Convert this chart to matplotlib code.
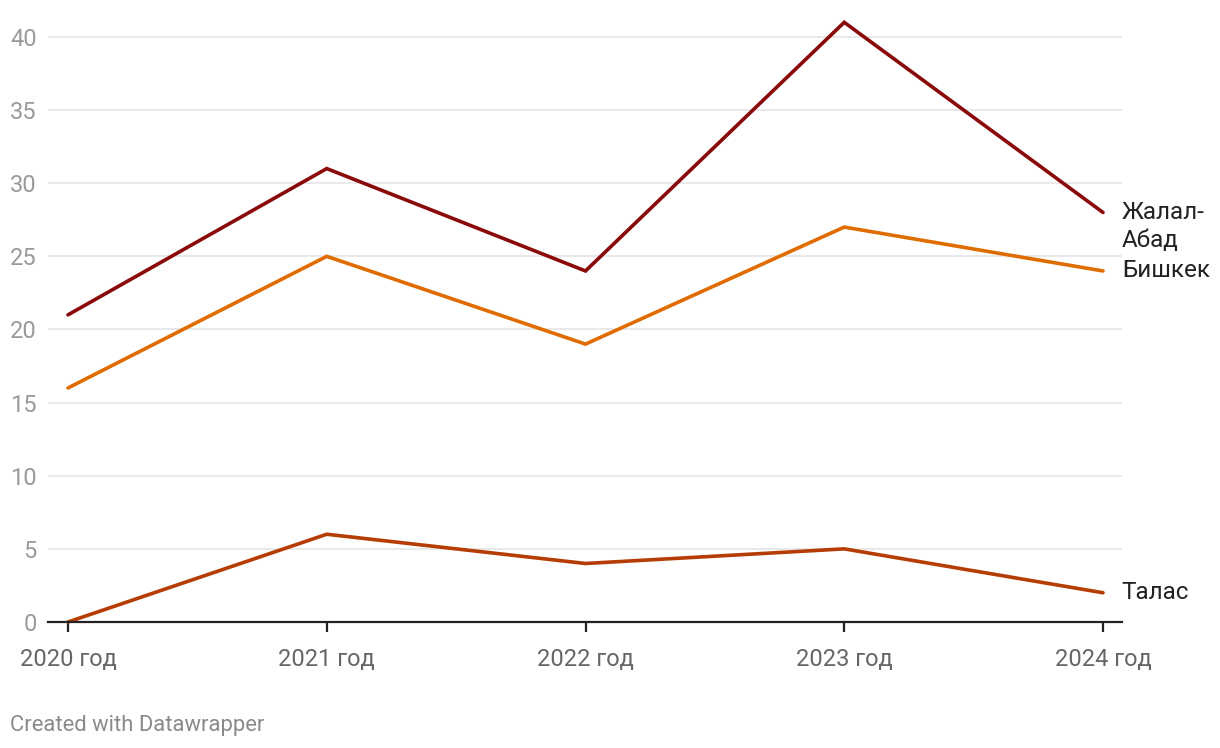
import matplotlib
matplotlib.use("Agg")
import matplotlib.pyplot as plt

years = [2020, 2021, 2022, 2023, 2024]
year_labels = ["2020 год", "2021 год", "2022 год", "2023 год", "2024 год"]
jalal_abad = [21, 31, 24, 41, 28]
bishkek = [16, 25, 19, 27, 24]
talas = [0, 6, 4, 5, 2]
y_ticks = [0, 5, 10, 15, 20, 25, 30, 35, 40]

plt.rcParams['font.family'] = ['Roboto', 'DejaVu Sans']

fig = plt.figure(figsize=(12.2, 7.48), dpi=100)
ax = fig.add_axes([48/1220, (748-622)/748, (1122-48)/1220, (622-15)/748])
ax.set_xlim(2020 - 20/258.75, 2024 + 19/258.75)
ax.set_ylim(0, 41.5)

for v in y_ticks[1:]:
    ax.axhline(v, color="#e3e3e3", lw=1.1, zorder=1)
ax.axhline(0, color="#222222", lw=1.6, zorder=4, clip_on=False)

series = [
    (jalal_abad, "#8a0a0a"),
    (bishkek, "#e06c00"),
    (talas, "#b53c02"),
]
for vals, c in series:
    ax.plot(years, vals, color=c, lw=2.6, zorder=3, clip_on=False, solid_capstyle='round', solid_joinstyle='miter')

for s in ax.spines.values():
    s.set_visible(False)

ax.set_yticks(y_ticks)
ax.set_yticklabels([str(v) for v in y_ticks])
ax.tick_params(axis='y', length=0, pad=8, labelsize=17, labelcolor="#9a9a9a")
ax.set_xticks(years)
ax.set_xticklabels(year_labels)
ax.tick_params(axis='x', length=7, width=1.6, color="#222222", pad=12, labelsize=17, labelcolor="#666666")

lab_kw = dict(xycoords='data', textcoords='offset points', fontsize=17.5, color="#222222", va='center', ha='left', annotation_clip=False)
ax.annotate("Жалал-", (2024, jalal_abad[-1]), xytext=(13.5, 0), **lab_kw)
ax.annotate("Абад", (2024, jalal_abad[-1]), xytext=(13.5, -20.5), **lab_kw)
ax.annotate("Бишкек", (2024, bishkek[-1]), xytext=(13.5, 0), **lab_kw)
ax.annotate("Талас", (2024, talas[-1]), xytext=(13.5, 0), **lab_kw)

fig.text(10/1220, 1 - 725/748, "Created with Datawrapper", fontsize=15.8, color="#8a8a8a", va='center', ha='left')

fig.savefig("out.png", dpi=100)
